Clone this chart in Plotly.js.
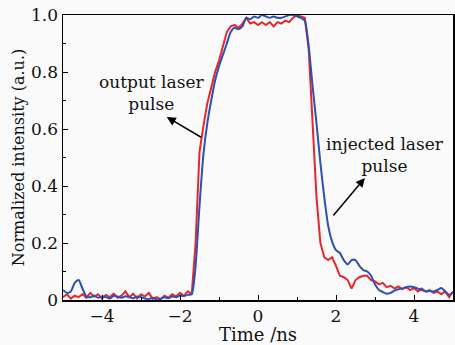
<!DOCTYPE html>
<html>
<head>
<meta charset="utf-8">
<script src="https://cdn.plot.ly/plotly-3.0.1.min.js"></script>
<style>html,body{margin:0;padding:0;background:#fafafa;}#chart{width:455px;height:345px;}</style>
</head>
<body>
<div id="chart"></div>
<script>
// Time axis (ns)
const timeNs = [
 -5.0,-4.9,-4.8,-4.7,-4.6,-4.5,-4.4,-4.3,-4.2,-4.1,
 -4.0,-3.9,-3.8,-3.7,-3.6,-3.5,-3.4,-3.3,-3.2,-3.1,
 -3.0,-2.9,-2.8,-2.7,-2.6,-2.5,-2.4,-2.3,-2.2,-2.1,
 -2.0,-1.9,-1.8,-1.7,-1.6,-1.5,-1.4,-1.3,-1.2,-1.1,
 -1.0,-0.9,-0.8,-0.7,-0.6,-0.5,-0.4,-0.3,-0.2,-0.1,
  0.0, 0.1, 0.2, 0.3, 0.4, 0.5, 0.6, 0.7, 0.8, 0.9,
  1.0, 1.1, 1.2, 1.3, 1.4, 1.5, 1.6, 1.7, 1.8, 1.9,
  2.0, 2.1, 2.2, 2.3, 2.4, 2.5, 2.6, 2.7, 2.8, 2.9,
  3.0, 3.1, 3.2, 3.3, 3.4, 3.5, 3.6, 3.7, 3.8, 3.9,
  4.0, 4.1, 4.2, 4.3, 4.4, 4.5, 4.6, 4.7, 4.8, 4.9, 5.0
];
// Output laser pulse (red)
const outputPulse = [
 0.010,0.020,0.005,0.015,0.010,0.020,0.008,0.025,0.012,0.020,
 0.005,0.018,0.010,0.022,0.008,0.015,0.030,0.010,0.022,0.005,
 0.020,0.012,0.025,0.004,0.010,0.003,0.015,0.008,0.020,0.012,
 0.025,0.015,0.030,0.020,0.200,0.520,0.610,0.690,0.745,0.800,
 0.840,0.890,0.940,0.960,0.965,0.955,0.970,0.990,0.970,0.975,
 0.965,0.975,0.965,0.975,0.960,0.975,0.970,0.980,0.975,0.990,
 1.000,0.995,0.990,0.880,0.620,0.360,0.200,0.150,0.140,0.150,
 0.120,0.085,0.080,0.070,0.040,0.070,0.080,0.085,0.085,0.070,
 0.065,0.055,0.060,0.045,0.050,0.040,0.048,0.038,0.045,0.035,
 0.042,0.030,0.040,0.030,0.035,0.025,0.030,0.020,0.030,0.010,0.030
];
// Injected laser pulse (blue)
const injectedPulse = [
 0.035,0.025,0.030,0.060,0.070,0.040,0.012,0.010,0.015,0.008,
 0.012,0.010,0.005,0.015,0.012,0.008,0.013,0.010,0.006,0.012,
 0.010,0.005,0.003,0.008,0.002,0.004,0.010,0.006,0.012,0.010,
 0.016,0.014,0.018,0.020,0.120,0.330,0.510,0.620,0.700,0.770,
 0.820,0.860,0.900,0.940,0.955,0.950,0.960,0.990,0.985,0.995,
 0.990,1.000,0.995,0.990,0.995,0.990,0.990,0.995,1.000,1.000,
 0.995,0.990,0.980,0.890,0.750,0.620,0.480,0.360,0.260,0.205,
 0.175,0.165,0.140,0.125,0.140,0.140,0.120,0.105,0.100,0.085,
 0.055,0.035,0.028,0.022,0.025,0.033,0.038,0.040,0.045,0.047,
 0.045,0.040,0.035,0.030,0.032,0.030,0.035,0.042,0.030,0.018,0.028
];
const xTickVals = [-4,-2,0,2,4];
const xTickText = ['\u22124','\u22122','0','2','4'];
const yTickVals = [0,0.2,0.4,0.6,0.8,1.0];
const yTickText = ['0','0.2','0.4','0.6','0.8','1.0'];

const font = 'DejaVu Serif, Liberation Serif, serif';
const traces = [
  {x: timeNs, y: outputPulse, mode: 'lines', line: {color: '#e8262b', width: 2}, hoverinfo: 'none'},
  {x: timeNs, y: injectedPulse, mode: 'lines', line: {color: '#2c50b4', width: 2, shape: 'spline', smoothing: 0.6}, hoverinfo: 'none'}
];
const axisCommon = {
  showline: true, linecolor: '#000', linewidth: 1.5, mirror: true,
  ticks: 'inside', ticklen: 5, tickwidth: 1, tickcolor: '#000',
  showgrid: false, zeroline: false,
  tickfont: {family: font, size: 17, color: '#111'}
};
const layout = {
  width: 455, height: 345,
  margin: {l: 63, r: 2, t: 15, b: 45},
  paper_bgcolor: '#fafafa', plot_bgcolor: '#fafafa',
  showlegend: false,
  xaxis: Object.assign({}, axisCommon, {
    range: [-5, 5], tickvals: xTickVals, ticktext: xTickText,
    minor: {dtick: 1, tick0: -5, ticks: 'inside', ticklen: 3, tickcolor: '#000'},
    title: {text: 'Time /ns', font: {family: font, size: 18, color: '#111'}, standoff: 0}
  }),
  yaxis: Object.assign({}, axisCommon, {
    range: [0, 1], tickvals: yTickVals, ticktext: yTickText,
    minor: {dtick: 0.1, tick0: 0, ticks: 'inside', ticklen: 3, tickcolor: '#000'},
    title: {text: 'Normalized intensity (a.u.)', font: {family: font, size: 16, color: '#111'}, standoff: 2}
  }),
  annotations: [
    {x: -2.74, y: 0.726, xref: 'x', yref: 'y', text: 'output laser<br>pulse', showarrow: false,
     font: {family: font, size: 17, color: '#111'}, align: 'center'},
    {x: 3.25, y: 0.509, xref: 'x', yref: 'y', text: 'injected laser<br>pulse', showarrow: false,
     font: {family: font, size: 17, color: '#111'}, align: 'center'},
    {x: -2.34, y: 0.642, ax: -1.42, ay: 0.568, xref: 'x', yref: 'y', axref: 'x', ayref: 'y',
     text: '', showarrow: true, arrowhead: 2, arrowsize: 1.2, arrowwidth: 1.5, arrowcolor: '#000'},
    {x: 2.74, y: 0.428, ax: 1.90, ay: 0.291, xref: 'x', yref: 'y', axref: 'x', ayref: 'y',
     text: '', showarrow: true, arrowhead: 2, arrowsize: 1.2, arrowwidth: 1.5, arrowcolor: '#000'}
  ]
};
Plotly.newPlot('chart', traces, layout, {staticPlot: true, displayModeBar: false});
</script>
</body>
</html>
